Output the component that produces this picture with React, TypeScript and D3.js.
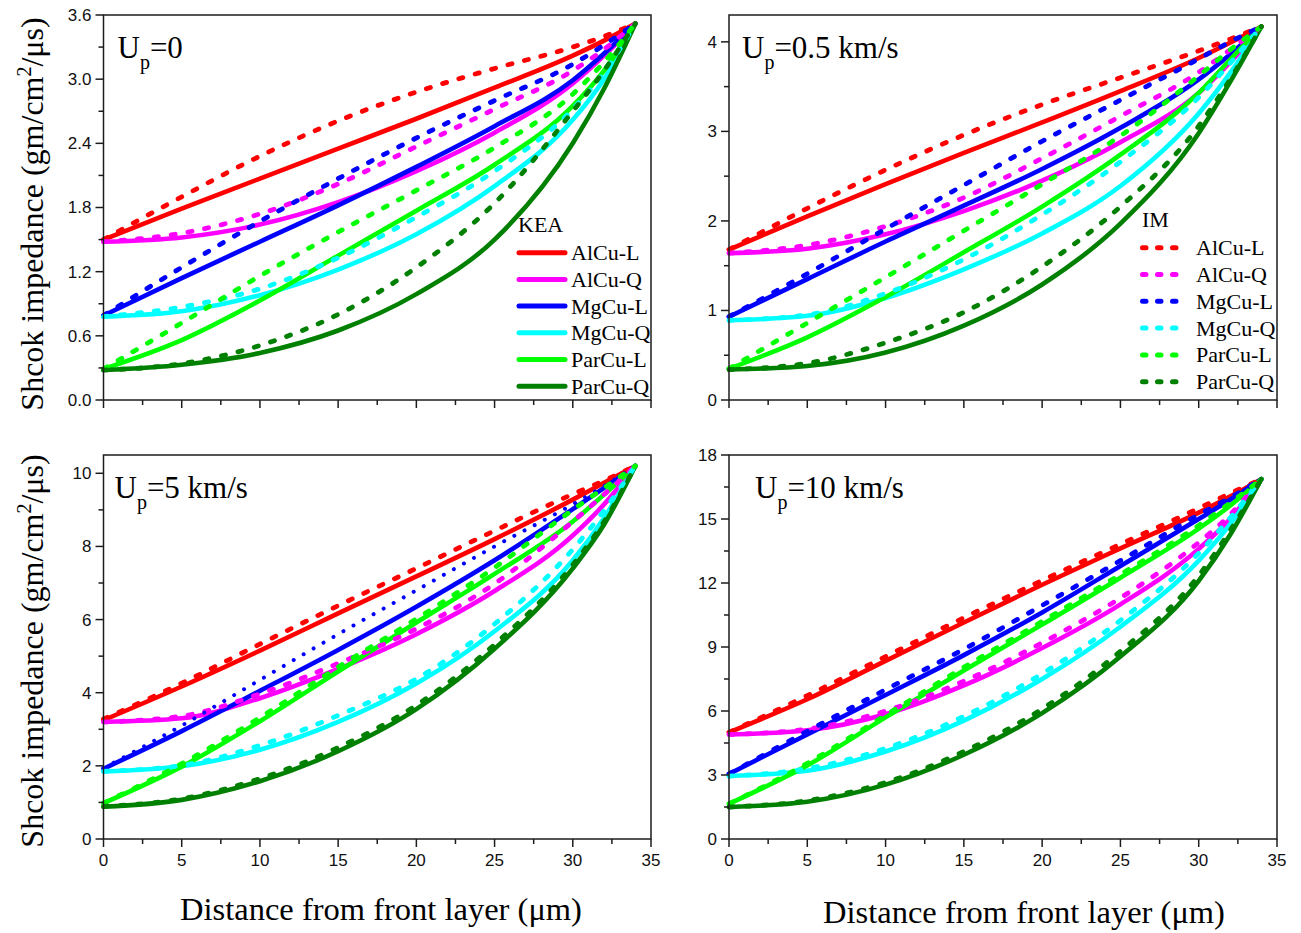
import React from "react";
import * as d3 from "d3";

// Distance from the front layer (µm) at which every curve is sampled
const distance = [0, 5, 10, 15, 20, 25, 30, 32, 34];

const seriesNames = ["AlCu-L", "AlCu-Q", "MgCu-L", "MgCu-Q", "ParCu-L", "ParCu-Q"];
const seriesColors = ["#ff0000", "#ff00ff", "#0000ff", "#00ffff", "#00ff00", "#008000"];

const xMajorTicks = [0, 5, 10, 15, 20, 25, 30, 35];
const xMinorTicks = [2.5, 7.5, 12.5, 17.5, 22.5, 27.5, 32.5];

// Shock impedance (gm/cm²/µs); rows follow seriesNames
const up0KEA = [
  [1.5, 1.79, 2.07, 2.35, 2.63, 2.92, 3.22, 3.36, 3.52],
  [1.48, 1.52, 1.64, 1.85, 2.14, 2.5, 2.96, 3.22, 3.52],
  [0.79, 1.14, 1.48, 1.82, 2.18, 2.56, 2.99, 3.24, 3.52],
  [0.78, 0.83, 0.98, 1.22, 1.55, 2.0, 2.62, 3.0, 3.52],
  [0.29, 0.56, 0.93, 1.35, 1.77, 2.2, 2.75, 3.08, 3.52],
  [0.28, 0.33, 0.44, 0.65, 0.99, 1.5, 2.4, 2.91, 3.52],
];
const up0IM = [
  [1.5, 1.9, 2.28, 2.61, 2.88, 3.1, 3.3, 3.4, 3.52],
  [1.48, 1.56, 1.74, 2.02, 2.37, 2.72, 3.08, 3.28, 3.52],
  [0.79, 1.24, 1.67, 2.07, 2.45, 2.8, 3.14, 3.32, 3.52],
  [0.78, 0.87, 1.04, 1.33, 1.71, 2.14, 2.72, 3.06, 3.52],
  [0.29, 0.72, 1.16, 1.57, 1.96, 2.36, 2.86, 3.16, 3.52],
  [0.28, 0.34, 0.51, 0.8, 1.24, 1.84, 2.7, 3.08, 3.52],
];

const up05KEA = [
  [1.68, 2.05, 2.41, 2.76, 3.1, 3.45, 3.82, 3.99, 4.17],
  [1.64, 1.69, 1.85, 2.11, 2.45, 2.88, 3.43, 3.77, 4.17],
  [0.93, 1.35, 1.77, 2.17, 2.58, 3.04, 3.58, 3.86, 4.17],
  [0.89, 0.94, 1.14, 1.46, 1.86, 2.39, 3.2, 3.65, 4.17],
  [0.35, 0.7, 1.15, 1.65, 2.16, 2.74, 3.43, 3.8, 4.17],
  [0.34, 0.38, 0.53, 0.83, 1.29, 1.97, 2.98, 3.55, 4.17],
];
const up05IM = [
  [1.68, 2.14, 2.57, 2.96, 3.3, 3.6, 3.9, 4.03, 4.17],
  [1.64, 1.73, 1.94, 2.26, 2.7, 3.17, 3.66, 3.91, 4.17],
  [0.93, 1.41, 1.91, 2.4, 2.89, 3.35, 3.81, 4.0, 4.17],
  [0.89, 0.95, 1.19, 1.57, 2.07, 2.66, 3.38, 3.76, 4.17],
  [0.35, 0.86, 1.37, 1.89, 2.41, 2.95, 3.62, 3.91, 4.17],
  [0.34, 0.41, 0.64, 0.98, 1.49, 2.16, 3.06, 3.58, 4.17],
];

const up5KEA = [
  [3.25, 4.17, 5.15, 6.17, 7.18, 8.2, 9.28, 9.74, 10.2],
  [3.2, 3.3, 3.85, 4.65, 5.6, 6.78, 8.3, 9.15, 10.2],
  [1.92, 2.95, 4.05, 5.17, 6.35, 7.62, 9.02, 9.6, 10.2],
  [1.85, 1.99, 2.44, 3.2, 4.25, 5.68, 7.62, 8.78, 10.2],
  [0.98, 1.98, 3.22, 4.58, 5.92, 7.25, 8.68, 9.42, 10.2],
  [0.88, 1.07, 1.58, 2.4, 3.55, 5.2, 7.4, 8.6, 10.2],
];
const up5IM = [
  [3.28, 4.26, 5.33, 6.38, 7.4, 8.43, 9.43, 9.8, 10.2],
  [3.2, 3.36, 3.97, 4.8, 5.75, 6.98, 8.68, 9.42, 10.2],
  [1.94, 3.1, 4.35, 5.6, 6.8, 8.0, 9.15, 9.65, 10.2],
  [1.85, 2.01, 2.56, 3.38, 4.38, 5.88, 7.92, 8.98, 10.2],
  [0.98, 2.06, 3.32, 4.7, 6.02, 7.42, 9.0, 9.6, 10.2],
  [0.89, 1.1, 1.65, 2.5, 3.66, 5.32, 7.5, 8.68, 10.2],
];

const up10KEA = [
  [5.0, 6.55, 8.35, 10.15, 11.92, 13.62, 15.3, 16.05, 16.87],
  [4.9, 5.1, 5.85, 7.2, 8.95, 11.0, 13.6, 15.0, 16.87],
  [3.05, 4.9, 6.75, 8.62, 10.62, 12.8, 15.0, 15.9, 16.87],
  [2.95, 3.2, 4.1, 5.55, 7.5, 9.95, 13.05, 14.75, 16.87],
  [1.65, 3.45, 5.7, 7.9, 10.05, 12.25, 14.55, 15.62, 16.87],
  [1.5, 1.75, 2.55, 3.95, 5.9, 8.55, 12.1, 14.25, 16.87],
];
const up10IM = [
  [5.0, 6.72, 8.55, 10.37, 12.12, 13.82, 15.5, 16.2, 16.87],
  [4.9, 5.15, 6.0, 7.4, 9.2, 11.3, 13.9, 15.2, 16.87],
  [3.05, 5.05, 7.0, 8.9, 10.95, 13.05, 15.2, 16.0, 16.87],
  [2.95, 3.3, 4.25, 5.75, 7.75, 10.25, 13.4, 15.05, 16.87],
  [1.65, 3.55, 5.8, 8.05, 10.2, 12.4, 14.7, 15.75, 16.87],
  [1.5, 1.8, 2.65, 4.1, 6.1, 8.8, 12.35, 14.45, 16.87],
];

const SERIF = "'Liberation Serif', 'Times New Roman', serif";
const SANS = "'Liberation Sans', Arial, sans-serif";
const AXIS_COLOR = "#1c1c1c";

type Box = { left: number; right: number; top: number; bottom: number };

type PanelProps = {
  box: Box;
  yMax: number;
  yMajor: number;
  yMinor: number;
  yFormat: (v: number) => string;
  xLabels: boolean;
  upText: string;
  titleDx: number;
  kea: number[][];
  im: number[][];
  legend?: "KEA" | "IM";
  fineDotted?: number;
};

function Panel(p: PanelProps) {
  const { box } = p;
  const x = d3.scaleLinear().domain([0, 35]).range([box.left, box.right]);
  const y = d3.scaleLinear().domain([0, p.yMax]).range([box.bottom, box.top]);
  const line = d3
    .line<number>()
    .x((_, i) => x(distance[i]))
    .y((d) => y(d))
    .curve(d3.curveMonotoneX);

  const yMajorTicks = d3.range(0, p.yMax + 1e-9, p.yMajor);
  const yMinorTicks = d3
    .range(p.yMinor, p.yMax + 1e-9, p.yMajor)
    .filter((v) => Math.abs(v / p.yMajor - Math.round(v / p.yMajor)) > 1e-6);

  return (
    <g>
      {/* KEA curves (solid) */}
      {p.kea.map((vals, i) => (
        <path
          key={"k" + i}
          d={line(vals) || ""}
          fill="none"
          stroke={seriesColors[i]}
          strokeWidth={4.6}
          strokeLinecap="round"
        />
      ))}
      {/* IM curves (dotted) */}
      {p.im.map((vals, i) => (
        <path
          key={"m" + i}
          d={line(vals) || ""}
          fill="none"
          stroke={seriesColors[i]}
          strokeWidth={p.fineDotted === i ? 4 : 4.8}
          strokeLinecap="round"
          strokeDasharray={p.fineDotted === i ? "0.01 11.5" : "4.2 12.8"}
        />
      ))}

      {/* frame */}
      <rect
        x={box.left}
        y={box.top}
        width={box.right - box.left}
        height={box.bottom - box.top}
        fill="none"
        stroke={AXIS_COLOR}
        strokeWidth={1.5}
      />

      {/* x axis */}
      {xMajorTicks.map((t) => (
        <line key={"xM" + t} x1={x(t)} x2={x(t)} y1={box.bottom} y2={box.bottom + 8} stroke={AXIS_COLOR} strokeWidth={1.5} />
      ))}
      {xMinorTicks.map((t) => (
        <line key={"xm" + t} x1={x(t)} x2={x(t)} y1={box.bottom} y2={box.bottom + 5} stroke={AXIS_COLOR} strokeWidth={1.5} />
      ))}
      {p.xLabels &&
        xMajorTicks.map((t) => (
          <text key={"xl" + t} x={x(t)} y={box.bottom + 27} textAnchor="middle" fontFamily={SANS} fontSize={17} fill="#111">
            {t}
          </text>
        ))}

      {/* y axis */}
      {yMajorTicks.map((t) => (
        <line key={"yM" + t} x1={box.left - 8} x2={box.left} y1={y(t)} y2={y(t)} stroke={AXIS_COLOR} strokeWidth={1.5} />
      ))}
      {yMinorTicks.map((t) => (
        <line key={"ym" + t} x1={box.left - 5} x2={box.left} y1={y(t)} y2={y(t)} stroke={AXIS_COLOR} strokeWidth={1.5} />
      ))}
      {yMajorTicks.map((t) => (
        <text
          key={"yl" + t}
          x={box.left - 12}
          y={y(t)}
          dy="0.35em"
          textAnchor="end"
          fontFamily={SANS}
          fontSize={17}
          fill="#111"
        >
          {p.yFormat(t)}
        </text>
      ))}

      {/* panel title */}
      <text x={box.left + p.titleDx} y={box.top + 42.5} fontFamily={SERIF} fontSize={31} fill="#000">
        U
        <tspan dy={11.5} fontSize={20}>
          p
        </tspan>
        <tspan dy={-11.5}>{p.upText}</tspan>
      </text>

      {p.legend === "KEA" && (
        <g fontFamily={SERIF} fontSize={22} fill="#000">
          <text x={518} y={232}>KEA</text>
          {seriesNames.map((name, i) => {
            const ly = 252.7 + i * 26.7;
            return (
              <g key={name}>
                <line x1={519} x2={565} y1={ly} y2={ly} stroke={seriesColors[i]} strokeWidth={5} strokeLinecap="round" />
                <text x={571} y={ly + 7.5}>{name}</text>
              </g>
            );
          })}
        </g>
      )}
      {p.legend === "IM" && (
        <g fontFamily={SERIF} fontSize={22} fill="#000">
          <text x={1142} y={227}>IM</text>
          {seriesNames.map((name, i) => {
            const ly = 247.7 + i * 26.8;
            return (
              <g key={name}>
                <line
                  x1={1142.5}
                  x2={1177}
                  y1={ly}
                  y2={ly}
                  stroke={seriesColors[i]}
                  strokeWidth={5}
                  strokeLinecap="round"
                  strokeDasharray="3.5 11.5"
                />
                <text x={1196} y={ly + 7.5}>{name}</text>
              </g>
            );
          })}
        </g>
      )}
    </g>
  );
}

function YTitle({ cx, cy }: { cx: number; cy: number }) {
  return (
    <text
      transform={`translate(${cx},${cy}) rotate(-90)`}
      textAnchor="middle"
      fontFamily={SERIF}
      fontSize={32}
      fill="#000"
    >
      Shcok impedance (gm/cm
      <tspan dy={-12} fontSize={20}>
        2
      </tspan>
      <tspan dy={12}>/μs)</tspan>
    </text>
  );
}

export default function App() {
  const fmt1 = d3.format(".1f");
  const fmt0 = d3.format("d");
  const topLeft: Box = { left: 103.5, right: 651, top: 15, bottom: 400 };
  const topRight: Box = { left: 729, right: 1277, top: 15, bottom: 400 };
  const botLeft: Box = { left: 103.5, right: 651, top: 455, bottom: 839 };
  const botRight: Box = { left: 729, right: 1277, top: 455, bottom: 839 };

  return (
    <svg
      width={1301}
      height={933}
      viewBox="0 0 1301 933"
      style={{ position: "absolute", left: 0, top: 0, background: "#fff" }}
    >
      <rect x={0} y={0} width={1301} height={933} fill="#fff" />
      <Panel
        box={topLeft}
        yMax={3.6}
        yMajor={0.6}
        yMinor={0.3}
        yFormat={fmt1}
        xLabels={false}
        upText="=0"
        titleDx={14}
        kea={up0KEA}
        im={up0IM}
        legend="KEA"
      />
      <Panel
        box={topRight}
        yMax={4.3}
        yMajor={1}
        yMinor={0.5}
        yFormat={fmt0}
        xLabels={false}
        upText="=0.5 km/s"
        titleDx={13}
        kea={up05KEA}
        im={up05IM}
        legend="IM"
      />
      <Panel
        box={botLeft}
        yMax={10.5}
        yMajor={2}
        yMinor={1}
        yFormat={fmt0}
        xLabels={true}
        upText="=5 km/s"
        titleDx={11}
        kea={up5KEA}
        im={up5IM}
        fineDotted={2}
      />
      <Panel
        box={botRight}
        yMax={18}
        yMajor={3}
        yMinor={1.5}
        yFormat={fmt0}
        xLabels={true}
        upText="=10 km/s"
        titleDx={26}
        kea={up10KEA}
        im={up10IM}
      />

      <YTitle cx={43} cy={214} />
      <YTitle cx={43} cy={651} />

      <text x={381} y={920} textAnchor="middle" fontFamily={SERIF} fontSize={32.5} fill="#000">
        Distance from front layer (μm)
      </text>
      <text x={1024} y={923} textAnchor="middle" fontFamily={SERIF} fontSize={32.5} fill="#000">
        Distance from front layer (μm)
      </text>
    </svg>
  );
}
